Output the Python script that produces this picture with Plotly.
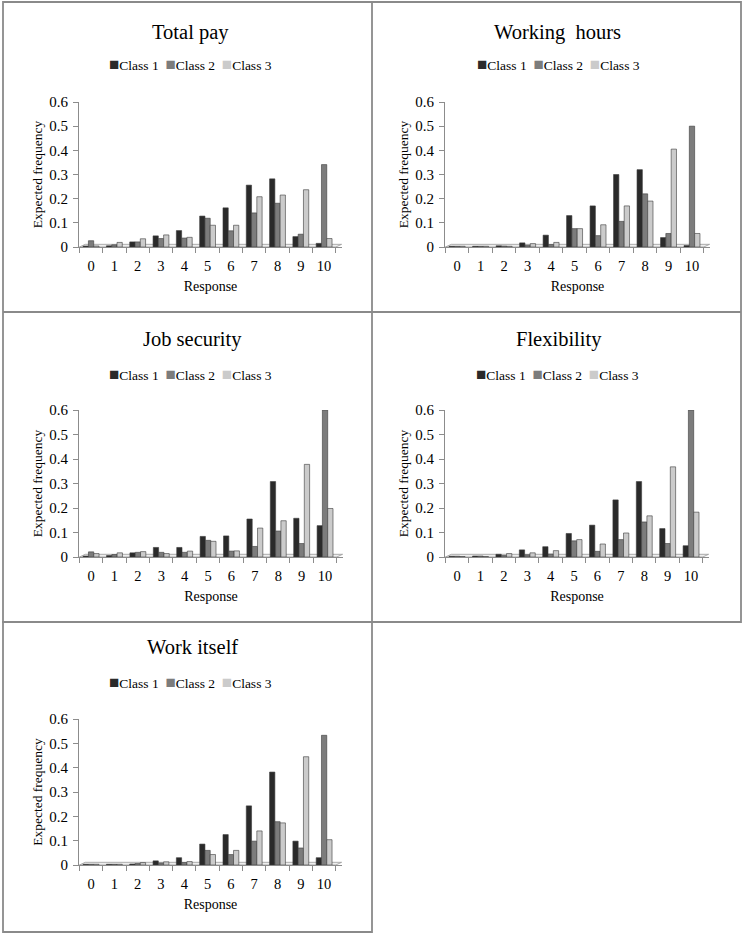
import plotly.graph_objects as go

W, H = 743, 934

responses = ["0", "1", "2", "3", "4", "5", "6", "7", "8", "9", "10"]
class_names = ["Class 1", "Class 2", "Class 3"]
class_colors = ["#2a2a2a", "#7c7c7c", "#cbcbcb"]

titles = ["Total pay", "Working  hours", "Job security", "Flexibility", "Work itself"]

total_pay_c1 = [0.004, 0.005, 0.021, 0.046, 0.068, 0.128, 0.162, 0.256, 0.282, 0.043, 0.015]
total_pay_c2 = [0.026, 0.009, 0.021, 0.035, 0.037, 0.119, 0.067, 0.141, 0.181, 0.053, 0.341]
total_pay_c3 = [0.004, 0.019, 0.034, 0.050, 0.040, 0.090, 0.090, 0.208, 0.215, 0.237, 0.035]

working_hours_c1 = [0.003, 0.003, 0.005, 0.017, 0.049, 0.130, 0.170, 0.300, 0.320, 0.039, 0.006]
working_hours_c2 = [0.003, 0.003, 0.004, 0.007, 0.010, 0.076, 0.047, 0.106, 0.220, 0.056, 0.500]
working_hours_c3 = [0.003, 0.003, 0.003, 0.014, 0.019, 0.076, 0.092, 0.170, 0.190, 0.405, 0.056]

job_security_c1 = [0.004, 0.006, 0.017, 0.039, 0.039, 0.084, 0.086, 0.155, 0.308, 0.158, 0.128]
job_security_c2 = [0.021, 0.010, 0.019, 0.019, 0.019, 0.068, 0.024, 0.043, 0.106, 0.055, 0.600]
job_security_c3 = [0.014, 0.017, 0.022, 0.014, 0.024, 0.064, 0.025, 0.118, 0.148, 0.378, 0.198]

flexibility_c1 = [0.003, 0.004, 0.011, 0.029, 0.042, 0.096, 0.130, 0.233, 0.308, 0.116, 0.046]
flexibility_c2 = [0.003, 0.004, 0.006, 0.009, 0.012, 0.066, 0.023, 0.071, 0.143, 0.055, 0.600]
flexibility_c3 = [0.002, 0.002, 0.014, 0.017, 0.026, 0.071, 0.053, 0.098, 0.168, 0.368, 0.183]

work_itself_c1 = [0.003, 0.003, 0.004, 0.017, 0.030, 0.086, 0.125, 0.243, 0.382, 0.098, 0.030]
work_itself_c2 = [0.003, 0.003, 0.006, 0.008, 0.010, 0.060, 0.043, 0.098, 0.178, 0.070, 0.533]
work_itself_c3 = [0.003, 0.003, 0.010, 0.013, 0.014, 0.043, 0.060, 0.140, 0.173, 0.445, 0.104]

panel_values = [
    [total_pay_c1, total_pay_c2, total_pay_c3],
    [working_hours_c1, working_hours_c2, working_hours_c3],
    [job_security_c1, job_security_c2, job_security_c3],
    [flexibility_c1, flexibility_c2, flexibility_c3],
    [work_itself_c1, work_itself_c2, work_itself_c3],
]

y_ticks = [0, 0.1, 0.2, 0.3, 0.4, 0.5, 0.6]
y_tick_text = ["0", "0.1", "0.2", "0.3", "0.4", "0.5", "0.6"]

# pixel layout: (x_left, x_right, y_top(0.6), y_bottom(0)) of plot area
plot_px = [
    (79, 342, 102, 247),
    (445, 710, 102, 247),
    (79, 343, 410, 557),
    (445, 709, 410, 557),
    (79, 342, 719, 865),
]
title_px = [(190, 32), (557, 32), (192, 339), (559, 339), (192, 647)]
legend_px = [(191, 65), (558, 65), (191, 374), (557, 374), (191, 682)]

FONT = "Liberation Serif, Times New Roman, serif"
AX = "#8c8c8c"

fig = go.Figure()
layout = dict(
    width=W, height=H, autosize=False,
    margin=dict(l=0, r=0, t=0, b=0, pad=0, autoexpand=False),
    paper_bgcolor="white", plot_bgcolor="white",
    barmode="group", bargap=0.32, bargroupgap=0.0,
    showlegend=False,
    font=dict(family=FONT, color="black"),
)

annotations = []
shapes = []


def px_x(p):
    return p / W


def px_y(p):
    return 1 - p / H


for i, vals in enumerate(panel_values):
    n = i + 1
    xa = "x" if n == 1 else f"x{n}"
    ya = "y" if n == 1 else f"y{n}"
    for c in range(3):
        fig.add_trace(go.Bar(
            x=responses, y=vals[c], name=class_names[c],
            xaxis=xa, yaxis=ya,
            marker=dict(color=class_colors[c], line=dict(color="#3a3a3a", width=0.6)),
            showlegend=False,
        ))
    x0, x1, yt, yb = plot_px[i]
    layout["xaxis" if n == 1 else f"xaxis{n}"] = dict(
        domain=[px_x(x0), px_x(x1)], anchor=ya, automargin=False,
        type="category", tickson="boundaries", tickangle=0,
        ticks="outside", ticklen=5, tickcolor=AX, tickwidth=1,
        ticklabelstandoff=5,
        showline=True, linecolor=AX, linewidth=1.2,
        showgrid=False, zeroline=False,
        tickfont=dict(family=FONT, size=14.5, color="black"),
        title=dict(text="Response", font=dict(family=FONT, size=14, color="black"), standoff=8),
    )
    layout["yaxis" if n == 1 else f"yaxis{n}"] = dict(
        domain=[px_y(yb), px_y(yt)], anchor=xa, automargin=False,
        range=[0, 0.6], tickvals=y_ticks, ticktext=y_tick_text,
        ticks="outside", ticklen=5, tickcolor=AX, tickwidth=1,
        ticklabelstandoff=2,
        showline=True, linecolor=AX, linewidth=1.2,
        showgrid=False, zeroline=False,
        tickfont=dict(family=FONT, size=15, color="black"),
        title=dict(text="Expected frequency", font=dict(family=FONT, size=13.5, color="black"), standoff=3),
    )
    # 3D-style floor slab under the bars
    shapes.append(dict(
        type="path", xref=xa, yref=ya, layer="below",
        path="M -0.5,0 L 10.5,0 L 10.75,0.011 L -0.25,0.011 Z",
        fillcolor="#eeeeee", line=dict(color="#999999", width=0.8),
    ))
    tx, ty = title_px[i]
    annotations.append(dict(
        xref="paper", yref="paper", x=px_x(tx), y=px_y(ty),
        xanchor="center", yanchor="middle", showarrow=False,
        text=titles[i].replace("  ", "&nbsp; "), font=dict(family=FONT, size=20.5, color="black"),
    ))
    lx, ly = legend_px[i]
    parts = []
    for c in range(3):
        parts.append(f'<span style="color:{class_colors[c]};font-size:17px">■</span>{class_names[c]}')
    annotations.append(dict(
        xref="paper", yref="paper", x=px_x(lx), y=px_y(ly),
        xanchor="center", yanchor="middle", showarrow=False,
        text="&nbsp;&nbsp;".join(parts), font=dict(family=FONT, size=13.5, color="black"),
    ))

# panel borders
BC = "#8a8a8a"
for (a, b, c, d) in [(3, 2, 741, 622), (3, 622, 372, 932)]:
    shapes.append(dict(type="rect", xref="paper", yref="paper",
                       x0=px_x(a), x1=px_x(c), y0=px_y(d), y1=px_y(b),
                       line=dict(color=BC, width=1.8), fillcolor="rgba(0,0,0,0)"))
shapes.append(dict(type="line", xref="paper", yref="paper",
                   x0=px_x(372), x1=px_x(372), y0=px_y(622), y1=px_y(2),
                   line=dict(color=BC, width=1.8)))
shapes.append(dict(type="line", xref="paper", yref="paper",
                   x0=px_x(3), x1=px_x(741), y0=px_y(312), y1=px_y(312),
                   line=dict(color=BC, width=1.8)))

layout["annotations"] = annotations
layout["shapes"] = shapes
fig.update_layout(**layout)

post = ("var s=document.createElement('style');"
        "s.textContent='html,body{margin:0!important;padding:0!important;overflow:hidden;"
        "width:743px;height:934px;}';"
        "document.head.appendChild(s);"
        "var d=document.getElementById('{plot_id}');"
        "d.style.position='fixed';d.style.left='0px';d.style.top='0px';")

fig.write_html("out.html", post_script=post, config={"displayModeBar": False})
